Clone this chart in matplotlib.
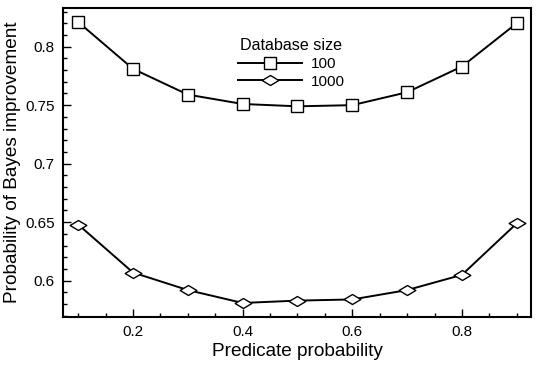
import matplotlib
matplotlib.use("Agg")
import matplotlib.pyplot as plt
from matplotlib.path import Path
from matplotlib.ticker import MultipleLocator
import numpy as np

plt.rcParams['font.family'] = ['Liberation Sans', 'DejaVu Sans']

x = [0.1, 0.2, 0.3, 0.4, 0.5, 0.6, 0.7, 0.8, 0.9]
size_100 = [0.821, 0.781, 0.759, 0.751, 0.749, 0.750, 0.761, 0.783, 0.820]
size_1000 = [0.648, 0.607, 0.592, 0.581, 0.583, 0.584, 0.592, 0.605, 0.649]
xticks = [0.2, 0.4, 0.6, 0.8]
yticks = [0.6, 0.65, 0.7, 0.75, 0.8]

diamond = Path([(-1, 0), (0, 0.6), (1, 0), (0, -0.6), (-1, 0)],
               [Path.MOVETO, Path.LINETO, Path.LINETO, Path.LINETO, Path.CLOSEPOLY])

fig = plt.figure(figsize=(5.4, 3.81), dpi=100)
ax = fig.add_axes([63/540, 1-317/381, (531-63)/540, (317-8)/381])

ax.plot(x, size_100, color='black', lw=1.4, marker='s', ms=8.5,
        mfc='white', mec='black', mew=1.0, label='100')
ax.plot(x, size_1000, color='black', lw=1.4, marker=diamond, ms=12,
        mfc='white', mec='black', mew=1.0, label='1000')

ax.set_xlim(0.0723, 0.926)
ax.set_ylim(0.569, 0.833)
ax.set_xticks(xticks)
ax.set_xticklabels([f"{t:g}" for t in xticks])
ax.set_yticks(yticks)
ax.set_yticklabels([f"{t:g}" for t in yticks])
ax.xaxis.set_minor_locator(MultipleLocator(0.05))
ax.yaxis.set_minor_locator(MultipleLocator(0.01))
ax.tick_params(which='major', direction='in', length=6, width=1, labelsize=11,
               top=False, right=False, pad=6)
ax.tick_params(which='minor', direction='in', length=3, width=1, top=False, right=False)
for s in ax.spines.values():
    s.set_linewidth(1.5)

ax.set_xlabel('Predicate probability', fontsize=13.7, labelpad=3)
ax.set_ylabel('Probability of Bayes improvement', fontsize=13.7, labelpad=3)

leg = ax.legend(title='Database size', loc='upper left',
                bbox_to_anchor=((234.7 - 63) / 468, (317 - 35) / 309),
                borderaxespad=0,
                frameon=False, fontsize=11, title_fontsize=11.6, handlelength=4.2,
                borderpad=0.2, labelspacing=0.25, handletextpad=0.6)

fig.savefig('out.png', dpi=100)
